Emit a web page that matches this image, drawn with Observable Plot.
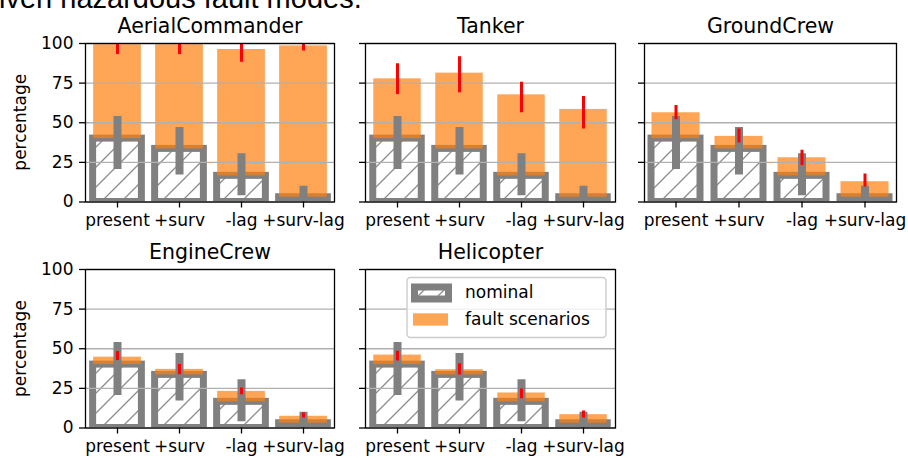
<!DOCTYPE html>
<html>
<head>
<meta charset="utf-8">
<script src="https://cdn.jsdelivr.net/npm/d3@7"></script>
<script src="https://cdn.jsdelivr.net/npm/@observablehq/plot@0.6"></script>
<style>
  body { margin: 0; background: #fff; }
  #fig { position: relative; width: 908px; height: 458px; overflow: hidden; background: #fff; }
  #fig > svg { position: absolute; }
</style>
</head>
<body>
<svg width="0" height="0" style="position:absolute">
  <defs>
    <pattern id="hatch" patternUnits="userSpaceOnUse" width="20" height="20">
      <rect width="20" height="20" fill="#fff"></rect>
      <path d="M0,20L20,0M-3,3L3,-3M17,23L23,17" stroke="#8c8c8c" stroke-width="1.3"></path>
    </pattern>
  </defs>
</svg>
<div id="fig"></div>
<script>
// Conditions on the x axis of every panel
const conditions = ["present", "+surv", "-lag", "+surv-lag"];
const roles = ["AerialCommander", "Tanker", "GroundCrew", "EngineCrew", "Helicopter"];

// Nominal runs (same for every role): mean and error-bar ends, in percent
const nominalMean = [40, 33.5, 16.5, 3];
const nominalLow = [20.5, 17, 4, 0];
const nominalHigh = [54, 47, 30.5, 10];

// Fault-scenario runs per role: mean and error-bar ends, in percent
const aerialMean = [100, 100, 96.2, 98.5];
const aerialLow = [93.1, 93.1, 88.2, 95.2];
const aerialHigh = [100, 100, 100, 100];

const tankerMean = [77.7, 81.3, 67.6, 58.4];
const tankerLow = [67.9, 68.9, 56.3, 46.0];
const tankerHigh = [87.2, 91.6, 75.6, 66.6];

const groundMean = [56.3, 41.4, 27.9, 12.8];
const groundLow = [51.9, 37.2, 23.1, 9.5];
const groundHigh = [60.9, 46.0, 32.6, 17.6];

const engineMean = [44.7, 37.0, 23.1, 7.4];
const engineLow = [42.6, 33.6, 21.0, 6.3];
const engineHigh = [48.3, 40.1, 25.2, 9.5];

const heliMean = [46.0, 36.8, 22.1, 8.4];
const heliLow = [42.2, 33.4, 18.5, 6.3];
const heliHigh = [48.5, 40.5, 24.6, 10.7];

const yTicks = [0, 25, 50, 75, 100];
const legendLabels = ["nominal", "fault scenarios"];

const faultMeans = [aerialMean, tankerMean, groundMean, engineMean, heliMean];
const faultLows = [aerialLow, tankerLow, groundLow, engineLow, heliLow];
const faultHighs = [aerialHigh, tankerHigh, groundHigh, engineHigh, heliHigh];

const GRAY = "#808080";
const ORANGE = "#ff7f0e";
const FONT = "'DejaVu Sans', sans-serif";

// Grid of axes frames
const frameLeft = [85, 365, 644];
const frameWidth = [249, 250, 252];
const frameTop = [43, 269.3];
const frameHeight = 158.5;

const fig = d3.select("#fig");

// Figure-level text (caption line and y labels)
const overlay = fig.append("svg").attr("width", 908).attr("height", 458)
  .style("left", "0px").style("top", "0px");
overlay.append("text")
  .attr("x", -1).attr("y", 7.5)
  .attr("font-family", "'Liberation Sans', Arial, sans-serif")
  .attr("font-size", 29)
  .text("iven hazardous fault modes.");
frameTop.forEach(t => {
  overlay.append("text")
    .attr("transform", `translate(21,${t + frameHeight / 2}) rotate(-90)`)
    .attr("text-anchor", "middle")
    .attr("dy", "0.32em")
    .attr("font-family", FONT)
    .attr("font-size", 17)
    .text("percentage");
});

roles.forEach((role, i) => {
  const col = i % 3, row = Math.floor(i / 3);
  const rows = conditions.map((c, j) => ({
    condition: c,
    nominal: nominalMean[j], nomLo: nominalLow[j], nomHi: nominalHigh[j],
    fault: faultMeans[i][j], faultLo: faultLows[i][j], faultHi: faultHighs[i][j]
  }));
  const mL = col === 0 ? 80 : 20, mR = 12, mT = 45, mB = 34;
  const w = frameWidth[col];
  const band = w / conditions.length;
  const barInset = (band - 49) / 2;

  const svg = Plot.plot({
    width: mL + w + mR,
    height: mT + frameHeight + mB,
    marginLeft: mL, marginRight: mR, marginTop: mT, marginBottom: mB,
    style: {fontFamily: FONT, fontSize: "17px", background: "none", overflow: "visible", color: "black"},
    x: {type: "band", domain: conditions, padding: 0},
    y: {domain: [0, 100]},
    marks: [
      // nominal bars: hatched, thick gray outline
      Plot.barY(rows, {x: "condition", y: "nominal", fill: "url(#hatch)", stroke: GRAY, strokeWidth: 7,
        insetLeft: barInset, insetRight: barInset, clip: true}),
      // fault-scenario increase stacked on the nominal level
      Plot.barY(rows, {x: "condition", y1: "nominal", y2: "fault", fill: ORANGE, fillOpacity: 0.7,
        insetLeft: barInset + 0.5, insetRight: barInset + 0.5, clip: true}),
      Plot.gridY(yTicks, {stroke: "#b0b0b0", strokeOpacity: 1, strokeWidth: 1.4}),
      // error bars
      Plot.ruleX(rows, {x: "condition", y1: "nomLo", y2: "nomHi", stroke: GRAY, strokeWidth: 8, clip: true}),
      Plot.ruleX(rows, {x: "condition", y1: "faultLo", y2: "faultHi", stroke: "red", strokeWidth: 3, clip: true}),
      Plot.frame({stroke: "black", strokeWidth: 1.3}),
      Plot.axisX({tickSize: 6, tickPadding: 6, label: null, stroke: "black", strokeWidth: 1.3}),
      Plot.axisY({ticks: yTicks, tickSize: 6, tickPadding: 6, label: null, stroke: "black", strokeWidth: 1.3,
        tickFormat: col === 0 ? d => String(d) : () => ""}),
      Plot.text([role], {text: d => d, frameAnchor: "top", dy: -10.4, lineAnchor: "bottom", fontSize: 20.5})
    ]
  });
  svg.style.left = `${frameLeft[col] - mL}px`;
  svg.style.top = `${frameTop[row] - mT}px`;
  fig.node().appendChild(svg);

  // legend inside the Helicopter panel
  if (role === "Helicopter") {
    const g = d3.select(svg).append("g").attr("transform", `translate(${mL},${mT})`)
      .attr("text-anchor", "start");
    g.append("rect").attr("x", 42).attr("y", 8.5).attr("width", 199).attr("height", 60)
      .attr("rx", 3.5).attr("fill", "#fff").attr("fill-opacity", 0.8).attr("stroke", "#cccccc").attr("stroke-width", 1.4);
    g.append("rect").attr("x", 49.5).attr("y", 18).attr("width", 34).attr("height", 12)
      .attr("fill", "url(#hatch)").attr("stroke", GRAY).attr("stroke-width", 7);
    g.append("rect").attr("x", 48).attr("y", 44.3).attr("width", 35).attr("height", 12.3)
      .attr("fill", ORANGE).attr("fill-opacity", 0.7);
    legendLabels.forEach((label, k) => {
      g.append("text").attr("x", 100).attr("y", k === 0 ? 24 : 50.3).attr("dy", "0.32em")
        .attr("text-anchor", "start")
        .attr("font-family", FONT).attr("font-size", 17).text(label);
    });
  }
});
</script>
</body>
</html>
